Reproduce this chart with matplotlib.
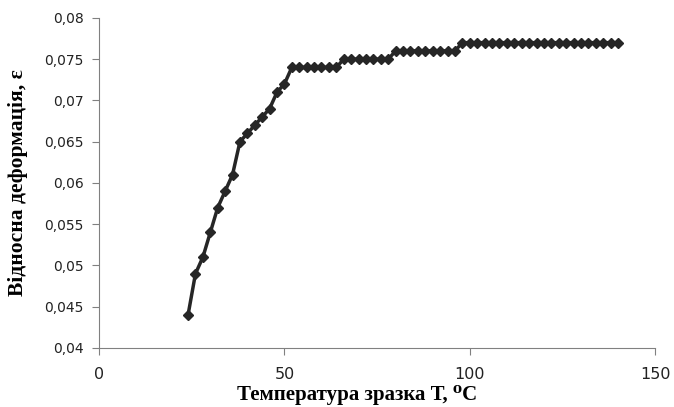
import matplotlib
matplotlib.use("Agg")
import matplotlib.pyplot as plt
from matplotlib.ticker import FuncFormatter

# Температура зразка, °C
temp = [24, 26, 28, 30, 32, 34, 36, 38, 40, 42, 44, 46, 48, 50,
        52, 54, 56, 58, 60, 62, 64,
        66, 68, 70, 72, 74, 76, 78,
        80, 82, 84, 86, 88, 90, 92, 94, 96,
        98, 100, 102, 104, 106, 108, 110, 112, 114, 116, 118, 120,
        122, 124, 126, 128, 130, 132, 134, 136, 138, 140]

# Відносна деформація
strain = [0.044, 0.049, 0.051, 0.054, 0.057, 0.059, 0.061, 0.065, 0.066, 0.067, 0.068, 0.069, 0.071, 0.072,
          0.074, 0.074, 0.074, 0.074, 0.074, 0.074, 0.074,
          0.075, 0.075, 0.075, 0.075, 0.075, 0.075, 0.075,
          0.076, 0.076, 0.076, 0.076, 0.076, 0.076, 0.076, 0.076, 0.076,
          0.077, 0.077, 0.077, 0.077, 0.077, 0.077, 0.077, 0.077, 0.077, 0.077, 0.077, 0.077,
          0.077, 0.077, 0.077, 0.077, 0.077, 0.077, 0.077, 0.077, 0.077, 0.077]

fig = plt.figure(figsize=(6.74, 4.07), dpi=100)
ax = fig.add_axes([0.147, 0.145, 0.825, 0.811])

ax.plot(temp, strain, color="#262626", lw=2.5, marker="D", markersize=5.5)

ax.set_xlim(0, 150)
ax.set_ylim(0.04, 0.08)
ax.set_xticks([0, 50, 100, 150])
ax.set_yticks([0.04, 0.045, 0.05, 0.055, 0.06, 0.065, 0.07, 0.075, 0.08])
ax.yaxis.set_major_formatter(FuncFormatter(lambda v, p: ("%g" % round(v, 3)).replace(".", ",")))

for s in ["top", "right"]:
    ax.spines[s].set_visible(False)
for s in ["left", "bottom"]:
    ax.spines[s].set_color("#808080")
ax.tick_params(colors="#808080", labelcolor="#222222", length=5)
ax.tick_params(axis="x", labelsize=11.5, pad=9)
ax.tick_params(axis="y", labelsize=10, pad=6)

serif = ["Liberation Serif", "DejaVu Serif"]
ax.set_xlabel("Температура зразка Т, ⁰C", family=serif, fontweight="bold", fontsize=15)
ax.xaxis.set_label_coords(0.464, -0.112)
ax.set_ylabel("Відносна деформація, ε", family=serif, fontweight="bold", fontsize=15.5, labelpad=12)

fig.savefig("out.png", dpi=100)
